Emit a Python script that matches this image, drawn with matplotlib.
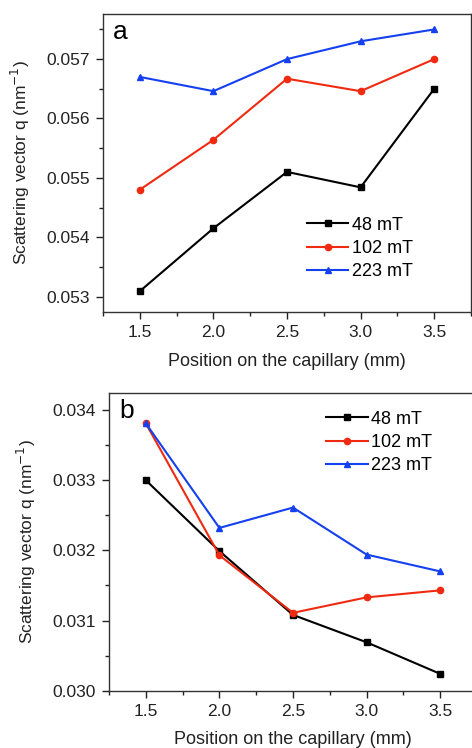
import matplotlib
matplotlib.use('Agg')
import matplotlib.pyplot as plt
from matplotlib.ticker import MultipleLocator, FormatStrFormatter

plt.rcParams['font.family'] = ['Liberation Sans', 'DejaVu Sans']

# Positions on the capillary (mm)
position = [1.5, 2.0, 2.5, 3.0, 3.5]
labels = ['48 mT', '102 mT', '223 mT']

# Panel a
q_a_48 = [0.05309, 0.05415, 0.05510, 0.05484, 0.05650]
q_a_102 = [0.05480, 0.05564, 0.05667, 0.05646, 0.05700]
q_a_223 = [0.05670, 0.05646, 0.05700, 0.05730, 0.05750]

# Panel b
q_b_48 = [0.03300, 0.03199, 0.03108, 0.03069, 0.03024]
q_b_102 = [0.03381, 0.03193, 0.03111, 0.03133, 0.03143]
q_b_223 = [0.03381, 0.03232, 0.03261, 0.03194, 0.03170]

colors = ['black', '#f02a10', '#1440f0']
markers = ['s', 'o', '^']

W, H = 472, 748
fig = plt.figure(figsize=(W / 100, H / 100), dpi=100)


def px_axes(left, right, top, bottom):
    return fig.add_axes([left / W, (H - bottom) / H, (right - left) / W, (bottom - top) / H])


def style(ax, ylim, ymajor, letter):
    ax.set_xlim(1.25, 3.75)
    ax.set_ylim(*ylim)
    ax.xaxis.set_major_locator(MultipleLocator(0.5))
    ax.xaxis.set_minor_locator(MultipleLocator(0.25))
    ax.yaxis.set_major_locator(MultipleLocator(ymajor))
    ax.yaxis.set_minor_locator(MultipleLocator(ymajor / 2))
    ax.xaxis.set_major_formatter(FormatStrFormatter('%.1f'))
    ax.yaxis.set_major_formatter(FormatStrFormatter('%.3f'))
    ax.tick_params(which='both', direction='out', top=False, right=False,
                   labelsize=12.5, colors='#222222')
    ax.tick_params(which='major', length=5, width=1, pad=4.5)
    ax.tick_params(which='minor', length=3, width=1)
    for s in ax.spines.values():
        s.set_color('#333333')
        s.set_linewidth(1)
    ax.set_xlabel('Position on the capillary (mm)', fontsize=13, color='#222222', labelpad=9)
    ax.set_ylabel('Scattering vector q (nm$^{-1}$)', fontsize=12.5, color='#222222', labelpad=10)
    ax.text(0.027, 0.94, letter, transform=ax.transAxes, fontsize=19, va='center', ha='left')


ax1 = px_axes(103, 471, 14, 312)
for y, c, m, lab in zip([q_a_48, q_a_102, q_a_223], colors, markers, labels):
    ax1.plot(position, y, color=c, marker=m, markersize=4.5, linewidth=1.5, label=lab)
style(ax1, (0.05274, 0.05776), 0.001, 'a')
ax1.legend(loc='upper left', bbox_to_anchor=(0.554, 0.32), frameon=False, fontsize=13,
           handlelength=2.3, handletextpad=0.2, labelspacing=0.35, borderpad=0, borderaxespad=0)

ax2 = px_axes(109, 477, 392.7, 690.7)
for y, c, m, lab in zip([q_b_48, q_b_102, q_b_223], colors, markers, labels):
    ax2.plot(position, y, color=c, marker=m, markersize=4.5, linewidth=1.5, label=lab)
style(ax2, (0.0300, 0.034247), 0.001, 'b')
ax2.legend(loc='upper left', bbox_to_anchor=(0.59, 0.94), frameon=False, fontsize=13,
           handlelength=2.3, handletextpad=0.2, labelspacing=0.35, borderpad=0, borderaxespad=0)

fig.savefig('out.png', dpi=100)
